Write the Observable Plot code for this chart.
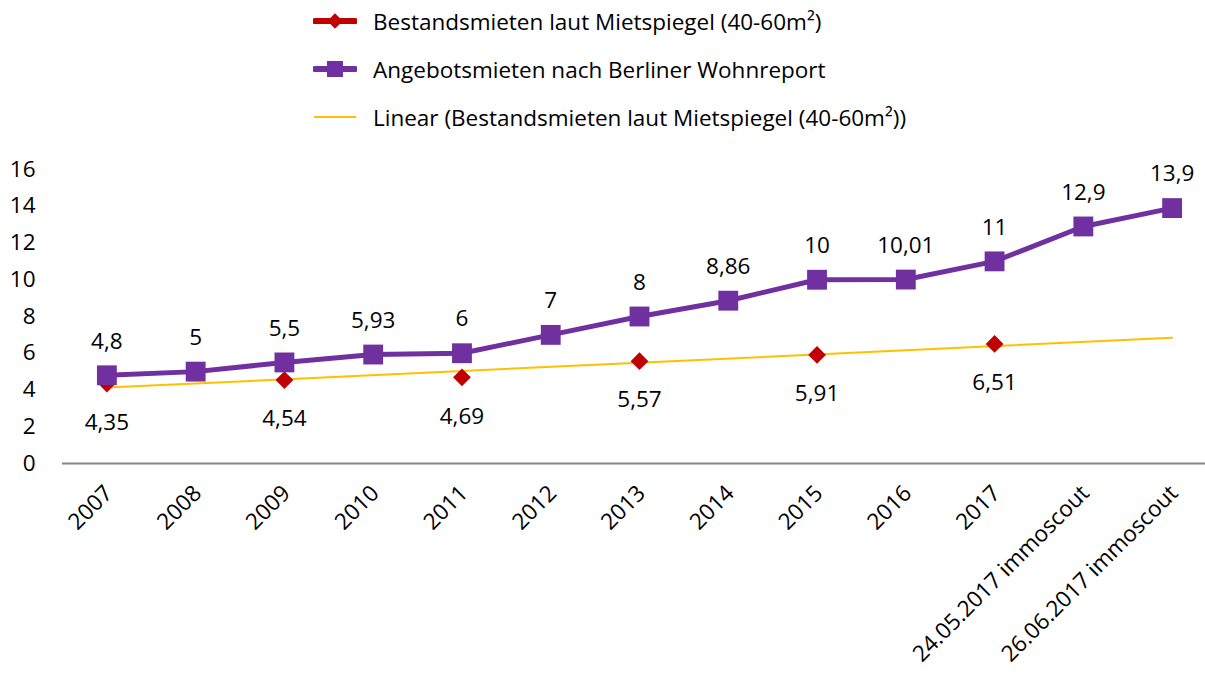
<!DOCTYPE html>
<html><head><meta charset="utf-8">
<script src="https://cdn.jsdelivr.net/npm/d3@7"></script>
<script src="https://cdn.jsdelivr.net/npm/@observablehq/plot@0.6"></script>
<style>
body{margin:0;background:#fff;font-family:"Open Sans",sans-serif;overflow:hidden;}
#legend{height:145px;position:relative;width:1205px;}
.item{position:absolute;left:313px;height:30px;display:flex;align-items:center;font-size:22.5px;color:#000;white-space:nowrap;}
.item svg{margin-right:16px;}
#chart svg{display:block;overflow:hidden;}
</style></head><body>
<div id="legend"></div>
<div id="chart"></div>
<script>
const categories = ["2007","2008","2009","2010","2011","2012","2013","2014","2015","2016","2017","24.05.2017 immoscout","26.06.2017 immoscout"];
const angebotsmieten = [4.8,5,5.5,5.93,6,7,8,8.86,10,10.01,11,12.9,13.9];
const bestandsmieten = [4.35,null,4.54,null,4.69,null,5.57,null,5.91,null,6.51,null,null];
const trendCategories = ["2007","26.06.2017 immoscout"];
const trendValues = [4.13, 6.84];
const seriesNames = ["Bestandsmieten laut Mietspiegel (40-60m²)","Angebotsmieten nach Berliner Wohnreport","Linear (Bestandsmieten laut Mietspiegel (40-60m²))"];
const yTicks = [0,2,4,6,8,10,12,14,16];

const RED = "#C00000", PURPLE = "#7030A0", GOLD = "#FFC000";
const fmt = v => String(v).replace(".", ",");
const FS = 22.5;

// legend
const legend = document.getElementById("legend");
const swatches = [
  `<svg width="44" height="20"><line x1="2" x2="42" y1="10" y2="10" stroke="${RED}" stroke-width="6" stroke-linecap="round"/><rect x="16.5" y="4.5" width="11" height="11" fill="${RED}" transform="rotate(45 22 10)"/></svg>`,
  `<svg width="44" height="20"><line x1="2" x2="42" y1="10" y2="10" stroke="${PURPLE}" stroke-width="6" stroke-linecap="round"/><rect x="14" y="2" width="16" height="16" fill="${PURPLE}"/></svg>`,
  `<svg width="44" height="20"><line x1="1" x2="43" y1="10" y2="10" stroke="${GOLD}" stroke-width="2"/></svg>`
];
const legendY = [6, 54, 102];
seriesNames.forEach((n, i) => {
  const d = document.createElement("div");
  d.className = "item";
  d.style.top = legendY[i] + "px";
  d.innerHTML = swatches[i] + "<span>" + n + "</span>";
  legend.appendChild(d);
});

const purple = categories.map((c, i) => ({cat: c, v: angebotsmieten[i]}));
const red = categories.map((c, i) => ({cat: c, v: bestandsmieten[i]})).filter(d => d.v != null);
const trend = trendCategories.map((c, i) => ({cat: c, v: trendValues[i]}));

const chart = Plot.plot({
  width: 1205,
  height: 532,
  marginTop: 24,
  marginBottom: 214,
  marginLeft: 62,
  marginRight: 0,
  style: {fontFamily: "'Open Sans', sans-serif", fontSize: FS + "px", color: "#000", background: "#fff"},
  x: {type: "point", domain: categories, range: [62, 1216], padding: 0.5, round: false, label: null},
  y: {domain: [0, 16], ticks: yTicks, label: null},
  marks: [
    Plot.axisY({ticks: yTicks, tickSize: 0, tickPadding: 27, fontSize: FS, label: null}),
    Plot.axisX({tickSize: 0, tickRotate: -45, tickPadding: 26, fontSize: FS, label: null, dx: 2}),
    Plot.ruleY([0], {stroke: "#888888", strokeWidth: 2}),
    Plot.line(trend, {x: "cat", y: "v", stroke: GOLD, strokeWidth: 2}),
    Plot.line(purple, {x: "cat", y: "v", stroke: PURPLE, strokeWidth: 5}),
    Plot.dot(red, {x: "cat", y: "v", symbol: "diamond2", r: 8, fill: RED, stroke: "none"}),
    Plot.dot(purple, {x: "cat", y: "v", symbol: "square", r: 11.2, fill: PURPLE, stroke: "none"}),
    Plot.text(purple, {x: "cat", y: "v", text: d => fmt(d.v), dy: -34, fontSize: FS, fill: "#000"}),
    Plot.text(red, {x: "cat", y: "v", text: d => fmt(d.v), dy: 39, fontSize: FS, fill: "#000"})
  ]
});
document.getElementById("chart").appendChild(chart);
</script>
</body></html>
